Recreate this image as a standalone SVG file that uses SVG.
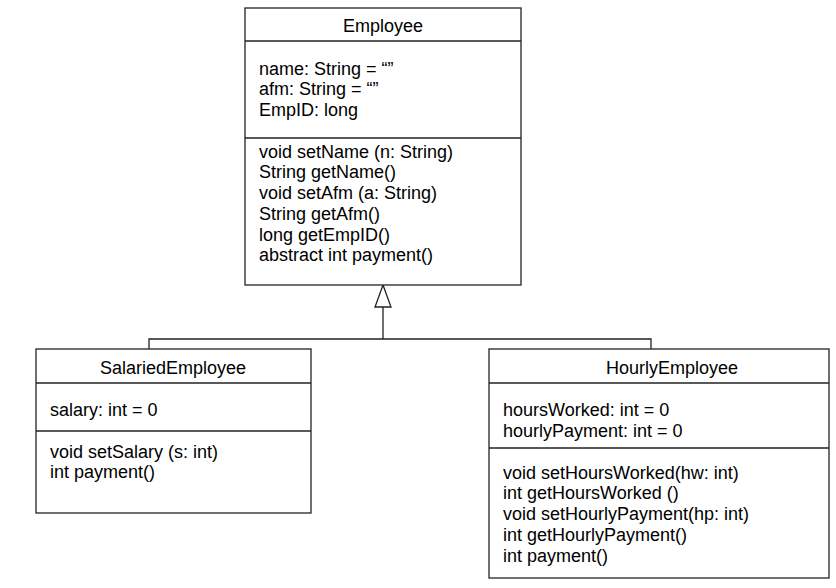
<svg xmlns="http://www.w3.org/2000/svg" width="836" height="588" viewBox="0 0 836 588">
<style>
.box{fill:#fff;stroke:#222;stroke-width:1.3}
.sep{stroke:#222;stroke-width:1.3}
text{font-family:"Liberation Sans",Arial,sans-serif;font-size:18px;fill:#000}
.t{text-anchor:middle}
.c{fill:none;stroke:#222;stroke-width:1.3}
</style>
<rect width="836" height="588" fill="#fff"/>
<g id="connectors">
<polyline class="c" points="149,349 149,339 651,339 651,349"/>
<line class="c" x1="383" y1="339" x2="383" y2="307"/>
<polygon points="383,285 375,307 391,307" fill="#fff" stroke="#222" stroke-width="1.3"/>
</g>
<g id="Employee">
<rect class="box" x="245" y="8" width="276" height="277"/>
<line class="sep" x1="245" y1="41" x2="521" y2="41"/>
<line class="sep" x1="245" y1="138" x2="521" y2="138"/>
<text class="t" x="383" y="32">Employee</text>
<text x="259" y="75">name: String = “”</text>
<text x="259" y="95">afm: String = “”</text>
<text x="259" y="116">EmpID: long</text>
<text x="259" y="158">void setName (n: String)</text>
<text x="259" y="178">String getName()</text>
<text x="259" y="199">void setAfm (a: String)</text>
<text x="259" y="220">String getAfm()</text>
<text x="259" y="241">long getEmpID()</text>
<text x="259" y="261">abstract int payment()</text>
</g>
<g id="SalariedEmployee">
<rect class="box" x="36" y="349" width="275" height="164"/>
<line class="sep" x1="36" y1="383" x2="311" y2="383"/>
<line class="sep" x1="36" y1="431" x2="311" y2="431"/>
<text class="t" x="173" y="374">SalariedEmployee</text>
<text x="50" y="416">salary: int = 0</text>
<text x="50" y="458">void setSalary (s: int)</text>
<text x="50" y="478">int payment()</text>
</g>
<g id="HourlyEmployee">
<rect class="box" x="489" y="349" width="340" height="229"/>
<line class="sep" x1="489" y1="383" x2="829" y2="383"/>
<line class="sep" x1="489" y1="448" x2="829" y2="448"/>
<text class="t" x="672" y="374">HourlyEmployee</text>
<text x="503" y="416">hoursWorked: int = 0</text>
<text x="503" y="437">hourlyPayment: int = 0</text>
<text x="503" y="479">void setHoursWorked(hw: int)</text>
<text x="503" y="499">int getHoursWorked ()</text>
<text x="503" y="520">void setHourlyPayment(hp: int)</text>
<text x="503" y="541">int getHourlyPayment()</text>
<text x="503" y="562">int payment()</text>
</g>
</svg>
